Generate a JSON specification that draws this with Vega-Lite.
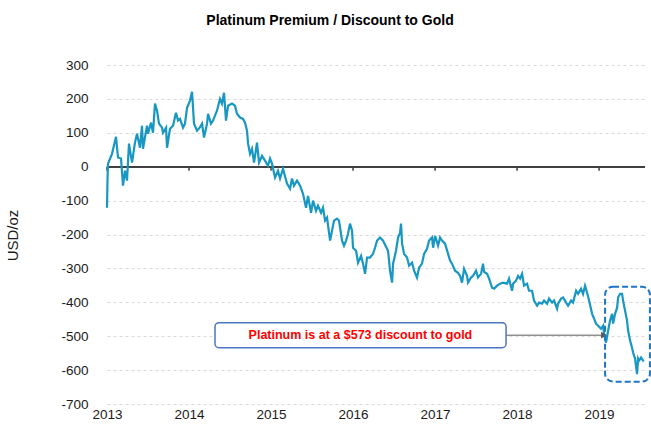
{
  "$schema": "https://vega.github.io/schema/vega-lite/v6.json",
  "width": 538,
  "height": 339,
  "autosize": {"type": "none"},
  "padding": {"left": 107, "top": 65, "right": 6, "bottom": 22},
  "background": "white",
  "title": {
    "text": "Platinum Premium / Discount to Gold",
    "font": "Liberation Sans",
    "fontSize": 14,
    "fontWeight": "bold",
    "color": "#000000",
    "anchor": "middle",
    "dx": -46,
    "offset": 30
  },
  "config": {
    "view": {"stroke": null},
    "axis": {"labelFont": "Liberation Sans", "labelFontSize": 13.5, "labelColor": "#1a1a1a", "titleFont": "Liberation Sans", "titleFontSize": 15, "titleFontWeight": "normal", "titleColor": "#1a1a1a", "labelOverlap": false, "labelFlush": false, "labelSeparation": 0}
  },
  "datasets": {
    "series": [
      {"t": 2013.000, "v": -121}, {"t": 2013.006, "v": -40}, {"t": 2013.012, "v": 9}, {"t": 2013.061, "v": 38},
      {"t": 2013.110, "v": 88}, {"t": 2013.134, "v": 27}, {"t": 2013.171, "v": 24}, {"t": 2013.195, "v": -56},
      {"t": 2013.220, "v": -12}, {"t": 2013.244, "v": -41}, {"t": 2013.268, "v": 68}, {"t": 2013.305, "v": 12},
      {"t": 2013.341, "v": 71}, {"t": 2013.366, "v": 97}, {"t": 2013.402, "v": 56}, {"t": 2013.427, "v": 121},
      {"t": 2013.439, "v": 53}, {"t": 2013.488, "v": 121}, {"t": 2013.500, "v": 97}, {"t": 2013.537, "v": 130},
      {"t": 2013.561, "v": 100}, {"t": 2013.585, "v": 186}, {"t": 2013.610, "v": 165}, {"t": 2013.634, "v": 127},
      {"t": 2013.671, "v": 115}, {"t": 2013.683, "v": 100}, {"t": 2013.720, "v": 115}, {"t": 2013.732, "v": 56},
      {"t": 2013.768, "v": 112}, {"t": 2013.805, "v": 121}, {"t": 2013.841, "v": 159}, {"t": 2013.866, "v": 136},
      {"t": 2013.890, "v": 141}, {"t": 2013.927, "v": 115}, {"t": 2013.951, "v": 127}, {"t": 2013.976, "v": 174},
      {"t": 2014.012, "v": 195}, {"t": 2014.037, "v": 221}, {"t": 2014.061, "v": 127}, {"t": 2014.098, "v": 106},
      {"t": 2014.130, "v": 115}, {"t": 2014.159, "v": 127}, {"t": 2014.183, "v": 86}, {"t": 2014.220, "v": 127},
      {"t": 2014.232, "v": 156}, {"t": 2014.268, "v": 127}, {"t": 2014.293, "v": 136}, {"t": 2014.341, "v": 165},
      {"t": 2014.378, "v": 200}, {"t": 2014.402, "v": 186}, {"t": 2014.427, "v": 218}, {"t": 2014.451, "v": 136},
      {"t": 2014.476, "v": 180}, {"t": 2014.524, "v": 186}, {"t": 2014.561, "v": 180}, {"t": 2014.585, "v": 156},
      {"t": 2014.622, "v": 145}, {"t": 2014.659, "v": 141}, {"t": 2014.683, "v": 130}, {"t": 2014.707, "v": 106},
      {"t": 2014.720, "v": 68}, {"t": 2014.744, "v": 38}, {"t": 2014.768, "v": 53}, {"t": 2014.793, "v": 12},
      {"t": 2014.829, "v": 71}, {"t": 2014.854, "v": 12}, {"t": 2014.890, "v": 32}, {"t": 2014.927, "v": 18},
      {"t": 2014.963, "v": 3}, {"t": 2014.988, "v": 24}, {"t": 2015.012, "v": 9}, {"t": 2015.049, "v": -32},
      {"t": 2015.085, "v": -12}, {"t": 2015.110, "v": -35}, {"t": 2015.146, "v": -6}, {"t": 2015.195, "v": -50},
      {"t": 2015.232, "v": -65}, {"t": 2015.256, "v": -35}, {"t": 2015.280, "v": -56}, {"t": 2015.317, "v": -41},
      {"t": 2015.354, "v": -56}, {"t": 2015.390, "v": -80}, {"t": 2015.427, "v": -121}, {"t": 2015.451, "v": -86},
      {"t": 2015.488, "v": -136}, {"t": 2015.512, "v": -100}, {"t": 2015.549, "v": -130}, {"t": 2015.573, "v": -115},
      {"t": 2015.610, "v": -136}, {"t": 2015.634, "v": -121}, {"t": 2015.659, "v": -159}, {"t": 2015.683, "v": -150},
      {"t": 2015.720, "v": -218}, {"t": 2015.744, "v": -189}, {"t": 2015.768, "v": -159}, {"t": 2015.805, "v": -153},
      {"t": 2015.829, "v": -159}, {"t": 2015.866, "v": -218}, {"t": 2015.890, "v": -233}, {"t": 2015.915, "v": -218},
      {"t": 2015.939, "v": -198}, {"t": 2015.963, "v": -168}, {"t": 2015.988, "v": -189}, {"t": 2016.000, "v": -239},
      {"t": 2016.037, "v": -248}, {"t": 2016.061, "v": -283}, {"t": 2016.098, "v": -263}, {"t": 2016.122, "v": -286},
      {"t": 2016.146, "v": -316}, {"t": 2016.171, "v": -268}, {"t": 2016.207, "v": -268}, {"t": 2016.244, "v": -257},
      {"t": 2016.268, "v": -239}, {"t": 2016.293, "v": -218}, {"t": 2016.329, "v": -209}, {"t": 2016.366, "v": -218},
      {"t": 2016.390, "v": -230}, {"t": 2016.427, "v": -248}, {"t": 2016.451, "v": -307}, {"t": 2016.476, "v": -342},
      {"t": 2016.488, "v": -286}, {"t": 2016.524, "v": -248}, {"t": 2016.549, "v": -209}, {"t": 2016.573, "v": -195},
      {"t": 2016.585, "v": -168}, {"t": 2016.598, "v": -227}, {"t": 2016.622, "v": -257}, {"t": 2016.659, "v": -268},
      {"t": 2016.683, "v": -292}, {"t": 2016.720, "v": -283}, {"t": 2016.744, "v": -307}, {"t": 2016.780, "v": -327},
      {"t": 2016.805, "v": -298}, {"t": 2016.841, "v": -286}, {"t": 2016.866, "v": -257}, {"t": 2016.902, "v": -242},
      {"t": 2016.927, "v": -218}, {"t": 2016.963, "v": -209}, {"t": 2016.976, "v": -239}, {"t": 2017.000, "v": -204},
      {"t": 2017.037, "v": -233}, {"t": 2017.061, "v": -209}, {"t": 2017.085, "v": -218}, {"t": 2017.122, "v": -227},
      {"t": 2017.159, "v": -257}, {"t": 2017.183, "v": -277}, {"t": 2017.207, "v": -286}, {"t": 2017.244, "v": -307},
      {"t": 2017.280, "v": -313}, {"t": 2017.305, "v": -322}, {"t": 2017.329, "v": -342}, {"t": 2017.354, "v": -301},
      {"t": 2017.390, "v": -322}, {"t": 2017.402, "v": -342}, {"t": 2017.439, "v": -327}, {"t": 2017.463, "v": -322},
      {"t": 2017.500, "v": -307}, {"t": 2017.524, "v": -327}, {"t": 2017.561, "v": -316}, {"t": 2017.585, "v": -286},
      {"t": 2017.598, "v": -310}, {"t": 2017.634, "v": -316}, {"t": 2017.659, "v": -330}, {"t": 2017.695, "v": -357},
      {"t": 2017.720, "v": -360}, {"t": 2017.756, "v": -351}, {"t": 2017.793, "v": -345}, {"t": 2017.829, "v": -342},
      {"t": 2017.878, "v": -345}, {"t": 2017.902, "v": -330}, {"t": 2017.939, "v": -366}, {"t": 2017.951, "v": -345},
      {"t": 2017.988, "v": -336}, {"t": 2018.012, "v": -322}, {"t": 2018.037, "v": -330}, {"t": 2018.061, "v": -316},
      {"t": 2018.085, "v": -351}, {"t": 2018.122, "v": -345}, {"t": 2018.146, "v": -366}, {"t": 2018.183, "v": -366},
      {"t": 2018.207, "v": -395}, {"t": 2018.244, "v": -410}, {"t": 2018.268, "v": -401}, {"t": 2018.305, "v": -404},
      {"t": 2018.329, "v": -395}, {"t": 2018.366, "v": -404}, {"t": 2018.390, "v": -389}, {"t": 2018.427, "v": -401},
      {"t": 2018.451, "v": -395}, {"t": 2018.488, "v": -419}, {"t": 2018.500, "v": -404}, {"t": 2018.537, "v": -389},
      {"t": 2018.561, "v": -386}, {"t": 2018.598, "v": -401}, {"t": 2018.622, "v": -410}, {"t": 2018.659, "v": -395},
      {"t": 2018.683, "v": -401}, {"t": 2018.720, "v": -366}, {"t": 2018.744, "v": -375}, {"t": 2018.780, "v": -360},
      {"t": 2018.805, "v": -375}, {"t": 2018.829, "v": -351}, {"t": 2018.854, "v": -372}, {"t": 2018.878, "v": -395},
      {"t": 2018.915, "v": -434}, {"t": 2018.939, "v": -448}, {"t": 2018.963, "v": -463}, {"t": 2018.988, "v": -469},
      {"t": 2019.024, "v": -478}, {"t": 2019.049, "v": -469}, {"t": 2019.061, "v": -493}, {"t": 2019.085, "v": -519},
      {"t": 2019.110, "v": -484}, {"t": 2019.134, "v": -454}, {"t": 2019.159, "v": -434}, {"t": 2019.171, "v": -463},
      {"t": 2019.195, "v": -434}, {"t": 2019.220, "v": -416}, {"t": 2019.232, "v": -386}, {"t": 2019.256, "v": -375},
      {"t": 2019.280, "v": -375}, {"t": 2019.293, "v": -395}, {"t": 2019.317, "v": -425}, {"t": 2019.341, "v": -454},
      {"t": 2019.354, "v": -484}, {"t": 2019.378, "v": -513}, {"t": 2019.402, "v": -534}, {"t": 2019.415, "v": -549},
      {"t": 2019.439, "v": -566}, {"t": 2019.463, "v": -612}, {"t": 2019.476, "v": -566}, {"t": 2019.488, "v": -572},
      {"t": 2019.512, "v": -563}, {"t": 2019.537, "v": -572}, {"t": 2019.549, "v": -573}
    ],
    "years": [{"year": 2013}, {"year": 2014}, {"year": 2015}, {"year": 2016}, {"year": 2017}, {"year": 2018}, {"year": 2019}],
    "note": [{"x1": 2014.317, "x2": 2017.866, "y1": -460, "y2": -534, "xm": 2016.09, "ym": -497, "ax": 2019.06, "label": "Platinum is at a $573 discount to gold"}],
    "focus": [{"x1": 2019.073, "x2": 2019.62, "y1": -354, "y2": -634}]
  },
  "layer": [
    {
      "data": {"name": "years"},
      "mark": {"type": "rule", "color": "#404040", "strokeWidth": 1.5},
      "encoding": {
        "y": {"datum": 0, "type": "quantitative"}
      }
    },
    {
      "data": {"name": "years"},
      "mark": {"type": "rule", "color": "#404040", "strokeWidth": 1.5},
      "encoding": {
        "x": {"field": "year", "type": "quantitative"},
        "y": {"datum": 0, "type": "quantitative"},
        "y2": {"datum": -12}
      }
    },
    {
      "data": {"name": "series"},
      "mark": {"type": "line", "color": "#1797c2", "strokeWidth": 2.2, "clip": false},
      "encoding": {
        "x": {"field": "t", "type": "quantitative", "scale": {"domain": [2013, 2019.56], "nice": false, "zero": false},
          "axis": {"values": [2013, 2014, 2015, 2016, 2017, 2018, 2019], "tickCount": 7, "labelOverlap": false, "format": "d", "title": null, "grid": false, "domain": false, "ticks": false, "labelPadding": 3}},
        "y": {"field": "v", "type": "quantitative", "scale": {"domain": [-700, 300], "nice": false, "zero": false},
          "axis": {"values": [-700, -600, -500, -400, -300, -200, -100, 0, 100, 200, 300], "tickCount": 11, "labelOverlap": false, "labelExpr": "datum.value < 0 ? '-' + abs(datum.value) : '' + datum.value", "title": "USD/oz", "titleX": -95, "titleY": 170, "titleAngle": -90, "titleAlign": "center", "titleBaseline": "middle", "grid": true, "gridColor": "#d9d9d9", "gridDash": [3, 3], "gridWidth": 1, "domain": false, "ticks": false, "labelPadding": 19}}
      }
    },
    {
      "data": {"name": "note"},
      "mark": {"type": "rule", "color": "#595959", "strokeWidth": 1},
      "encoding": {
        "x": {"field": "x2", "type": "quantitative"},
        "x2": {"field": "ax"},
        "y": {"field": "ym", "type": "quantitative"}
      }
    },
    {
      "data": {"name": "note"},
      "mark": {"type": "point", "shape": "triangle-right", "filled": true, "color": "#595959", "size": 45, "opacity": 1},
      "encoding": {
        "x": {"field": "ax", "type": "quantitative"},
        "y": {"field": "ym", "type": "quantitative"}
      }
    },
    {
      "data": {"name": "note"},
      "mark": {"type": "rect", "fill": "white", "stroke": "#4a76c0", "strokeWidth": 1.5, "cornerRadius": 4},
      "encoding": {
        "x": {"field": "x1", "type": "quantitative"},
        "x2": {"field": "x2"},
        "y": {"field": "y1", "type": "quantitative"},
        "y2": {"field": "y2"}
      }
    },
    {
      "data": {"name": "note"},
      "mark": {"type": "text", "color": "#ff0000", "font": "Liberation Sans", "fontSize": 12.5, "fontWeight": "bold", "align": "center", "baseline": "middle"},
      "encoding": {
        "x": {"field": "xm", "type": "quantitative"},
        "y": {"field": "ym", "type": "quantitative"},
        "text": {"field": "label"}
      }
    },
    {
      "data": {"name": "focus"},
      "mark": {"type": "rect", "fill": null, "fillOpacity": 0, "stroke": "#1f74c4", "strokeWidth": 2, "strokeDash": [6, 3], "cornerRadius": 8, "clip": false},
      "encoding": {
        "x": {"field": "x1", "type": "quantitative"},
        "x2": {"field": "x2"},
        "y": {"field": "y1", "type": "quantitative"},
        "y2": {"field": "y2"}
      }
    }
  ]
}
